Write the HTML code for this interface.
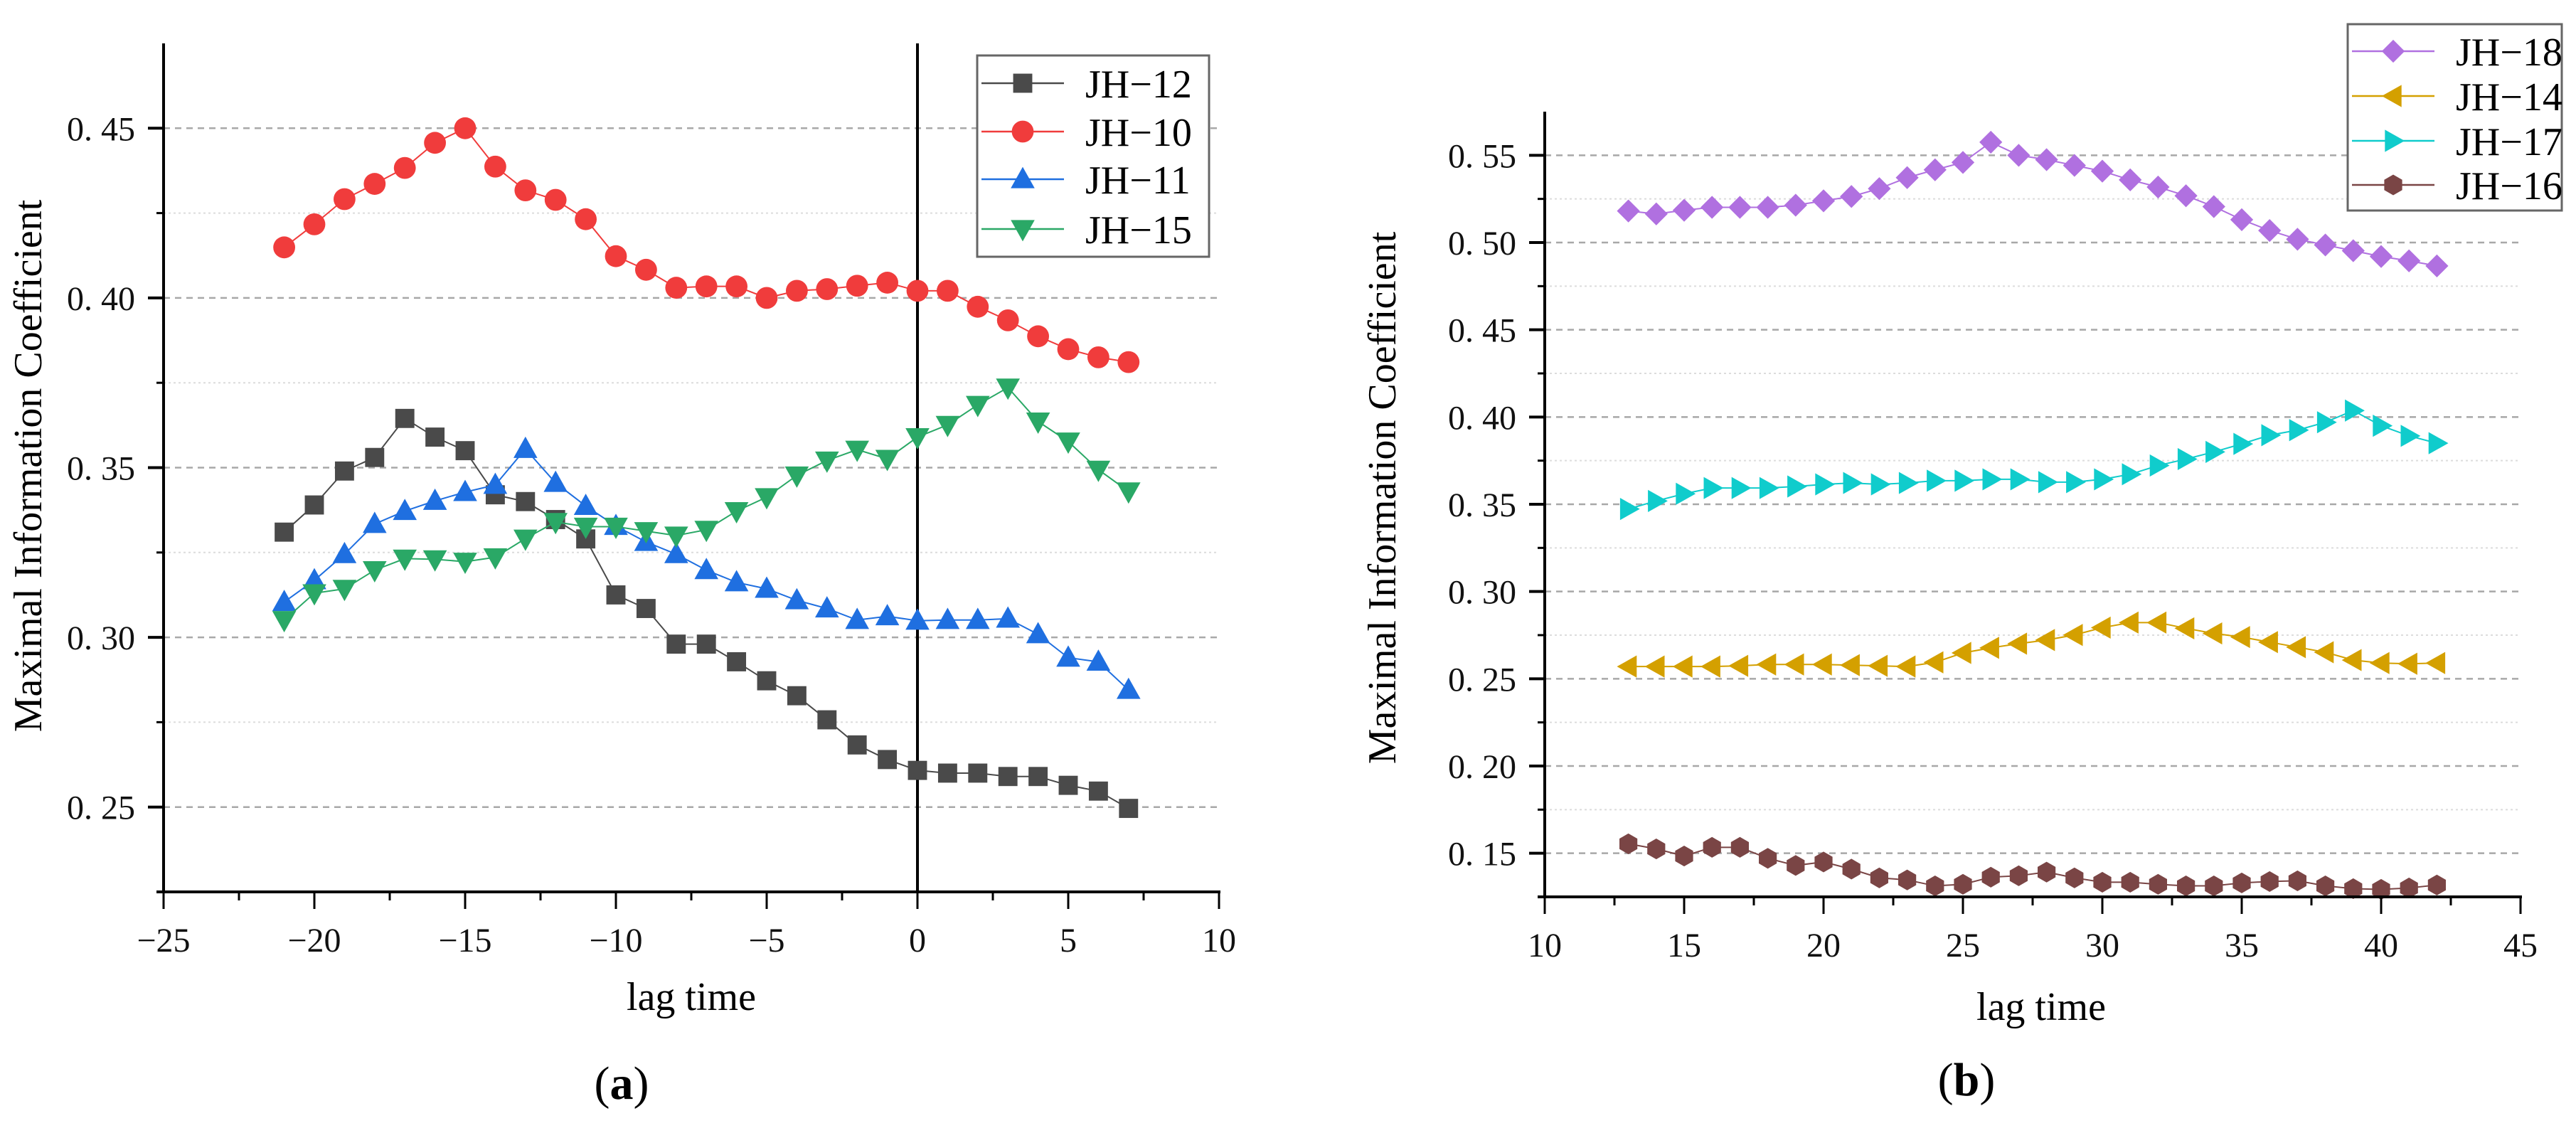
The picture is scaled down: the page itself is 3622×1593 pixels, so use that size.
<!DOCTYPE html>
<html><head><meta charset="utf-8">
<style>
html,body{margin:0;padding:0;background:#fff;}
svg{display:block;font-family:"Liberation Serif","Noto Serif CJK SC",serif;}
</style></head>
<body>
<svg id="fig" width="3622" height="1593" viewBox="0 0 3622 1593" xmlns="http://www.w3.org/2000/svg"></svg>
<script>
// ---- Panel (a) data ----
const lagA = [-21,-20,-19,-18,-17,-16,-15,-14,-13,-12,-11,-10,-9,-8,-7,-6,-5,-4,-3,-2,-1,0,1,2,3,4,5,6,7];
const jh12 = [0.331,0.339,0.349,0.353,0.3645,0.359,0.355,0.342,0.340,0.3347,0.329,0.3125,0.3085,0.298,0.298,0.2928,0.2872,0.2828,0.2757,0.2683,0.264,0.2608,0.260,0.260,0.259,0.259,0.2564,0.2547,0.2496];
const jh10 = [0.4149,0.4217,0.4291,0.4336,0.4383,0.4457,0.450,0.4387,0.4317,0.4289,0.4232,0.4123,0.4083,0.403,0.4034,0.4034,0.400,0.4021,0.4026,0.4036,0.4045,0.4021,0.4021,0.3974,0.3934,0.3887,0.3849,0.3825,0.3811];
const jh11 = [0.3104,0.3168,0.3245,0.3334,0.3372,0.3402,0.3428,0.3449,0.3555,0.3455,0.3387,0.3328,0.3281,0.3245,0.3198,0.3162,0.3143,0.3109,0.3085,0.3051,0.3062,0.3049,0.3051,0.3051,0.3055,0.3009,0.294,0.2928,0.2845];
const jh15 = [0.3051,0.313,0.3143,0.3198,0.3232,0.323,0.3223,0.3236,0.3291,0.334,0.3326,0.3326,0.3313,0.330,0.3317,0.3372,0.3413,0.3477,0.3521,0.3553,0.3526,0.359,0.3626,0.3685,0.3736,0.3636,0.3577,0.3494,0.343];
const xTicksA = [-25,-20,-15,-10,-5,0,5,10];
const yTicksA = [0.25,0.30,0.35,0.40,0.45];
// ---- Panel (b) data ----
const lagB = [13,14,15,16,17,18,19,20,21,22,23,24,25,26,27,28,29,30,31,32,33,34,35,36,37,38,39,40,41,42];
const jh18 = [0.5181,0.5164,0.5185,0.5202,0.5202,0.5202,0.5214,0.5239,0.5264,0.5309,0.5372,0.5417,0.5459,0.5575,0.550,0.5475,0.5442,0.5409,0.5359,0.5318,0.5268,0.5206,0.5131,0.5069,0.5019,0.4986,0.4953,0.492,0.4895,0.4866];
const jh14 = [0.2570,0.2570,0.2570,0.2570,0.2574,0.2582,0.2582,0.2582,0.2578,0.2574,0.2570,0.2594,0.2648,0.2677,0.2701,0.2722,0.2751,0.2793,0.2822,0.2822,0.2789,0.276,0.2739,0.271,0.2681,0.2652,0.2607,0.259,0.2586,0.259];
const jh17 = [0.3473,0.3519,0.356,0.3593,0.3593,0.3593,0.3602,0.3614,0.3622,0.3614,0.3622,0.3635,0.3635,0.3643,0.3643,0.3627,0.3627,0.3643,0.3672,0.3722,0.3759,0.380,0.3846,0.3896,0.3925,0.397,0.4037,0.395,0.3892,0.385];
const jh16 = [0.1554,0.1525,0.1484,0.1534,0.1534,0.1471,0.143,0.145,0.1409,0.1359,0.1347,0.1313,0.1322,0.1363,0.1371,0.1392,0.1359,0.1334,0.1334,0.1322,0.1313,0.1313,0.133,0.1338,0.1342,0.1313,0.1297,0.1293,0.1301,0.1318];
const xTicksB = [10,15,20,25,30,35,40,45];
const yTicksB = [0.15,0.20,0.25,0.30,0.35,0.40,0.45,0.50,0.55];

const NS = "http://www.w3.org/2000/svg";
const svg = document.getElementById('fig');
function mk(tag, attrs, parent){
  const e = document.createElementNS(NS, tag);
  for (const k in attrs) e.setAttribute(k, attrs[k]);
  (parent||svg).appendChild(e);
  return e;
}
function fmtY(v){ const s=v.toFixed(2); return s.replace('.', '. '); }
function fmtX(v){ return v<0 ? '\u2212'+Math.abs(v) : String(v); }

function marker(g, type, cx, cy, color, s){
  let e;
  if (type==='square') e = mk('rect',{x:cx-s*0.48,y:cy-s*0.48,width:s*0.96,height:s*0.96,fill:color},g);
  else if (type==='circle') e = mk('circle',{cx:cx,cy:cy,r:s*0.55,fill:color},g);
  else if (type==='up') e = mk('polygon',{points:`${cx},${cy-s*0.62} ${cx-s*0.6},${cy+s*0.45} ${cx+s*0.6},${cy+s*0.45}`,fill:color},g);
  else if (type==='down') e = mk('polygon',{points:`${cx},${cy+s*0.62} ${cx-s*0.6},${cy-s*0.45} ${cx+s*0.6},${cy-s*0.45}`,fill:color},g);
  else if (type==='left') e = mk('polygon',{points:`${cx-s*0.62},${cy} ${cx+s*0.45},${cy-s*0.6} ${cx+s*0.45},${cy+s*0.6}`,fill:color},g);
  else if (type==='right') e = mk('polygon',{points:`${cx+s*0.62},${cy} ${cx-s*0.45},${cy-s*0.6} ${cx-s*0.45},${cy+s*0.6}`,fill:color},g);
  else if (type==='diamond') e = mk('polygon',{points:`${cx},${cy-s*0.62} ${cx+s*0.62},${cy} ${cx},${cy+s*0.62} ${cx-s*0.62},${cy}`,fill:color},g);
  else if (type==='hex'){
    let p=[]; for(let i=0;i<6;i++){const a=Math.PI/3*i+Math.PI/6; p.push((cx+s*0.56*Math.cos(a))+','+(cy+s*0.56*Math.sin(a)));}
    e = mk('polygon',{points:p.join(' '),fill:color},g);
  }
  return e;
}

function panel(cfg){
  const P = mk('g',{});
  
  
  const X = v => cfg.x0 + (v-cfg.xmin)/(cfg.xmax-cfg.xmin)*(cfg.x1-cfg.x0);
  const Y = v => cfg.y1 - (v-cfg.ymin)/(cfg.ymax-cfg.ymin)*(cfg.y1-cfg.y0);
  // grid
  const grid = mk('g',{},P);
  
  
  const step = cfg.yTicks[1]-cfg.yTicks[0];
  cfg.yTicks.forEach(v=>{
    mk('line',{x1:cfg.x0,x2:cfg.x1,y1:Y(v),y2:Y(v),stroke:'#a8a8a8','stroke-width':2.5,'stroke-dasharray':'9,7'},grid);
    const m=v+step/2;
    if (m<cfg.ymax) mk('line',{x1:cfg.x0,x2:cfg.x1,y1:Y(m),y2:Y(m),stroke:'#dcdcdc','stroke-width':2,'stroke-dasharray':'3,4'},grid);
  });
  if (cfg.vline!==undefined){
    const vl = mk('line',{x1:X(cfg.vline),x2:X(cfg.vline),y1:cfg.y0,y2:cfg.y1,stroke:'#000','stroke-width':4},P);
    
    
  }
  // series
  cfg.series.forEach(s=>{
    const g = mk('g',{},P);
    
    
    const pts = cfg.xs.map((x,i)=>X(x)+','+Y(s.vals[i])).join(' ');
    mk('polyline',{points:pts,fill:'none',stroke:s.color,'stroke-width':2},g);
    cfg.xs.forEach((x,i)=>{
      const m = marker(g,s.type,X(x),Y(s.vals[i]),s.color,cfg.ms);
      
      
    });
  });
  // axes
  const ax = mk('g',{},P);
  
  
  mk('line',{x1:cfg.x0,x2:cfg.x0,y1:cfg.y0,y2:cfg.y1+2,stroke:'#000','stroke-width':4},ax);
  mk('line',{x1:cfg.x0-10,x2:cfg.x1+2,y1:cfg.y1,y2:cfg.y1,stroke:'#000','stroke-width':4},ax);
  const xstep = cfg.xTicks[1]-cfg.xTicks[0];
  cfg.xTicks.forEach((v,i)=>{
    mk('line',{x1:X(v),x2:X(v),y1:cfg.y1,y2:cfg.y1+24,stroke:'#000','stroke-width':3},ax);
    if (i<cfg.xTicks.length-1) mk('line',{x1:X(v+xstep/2),x2:X(v+xstep/2),y1:cfg.y1,y2:cfg.y1+12,stroke:'#000','stroke-width':3},ax);
    const t = mk('text',{x:X(v),y:cfg.y1+84,'text-anchor':'middle','font-size':48,fill:'#111'},ax);
    t.textContent = fmtX(v);
    
    
  });
  cfg.yTicks.forEach(v=>{
    mk('line',{x1:cfg.x0-22,x2:cfg.x0,y1:Y(v),y2:Y(v),stroke:'#000','stroke-width':4},ax);
    const m=v+step/2;
    if (m<cfg.ymax) mk('line',{x1:cfg.x0-10,x2:cfg.x0,y1:Y(m),y2:Y(m),stroke:'#000','stroke-width':3},ax);
    const t = mk('text',{x:cfg.x0-40,y:Y(v)+17,'text-anchor':'end','font-size':48,fill:'#111'},ax);
    t.textContent = fmtY(v);
    
    
  });
  // titles
  const yt = mk('text',{x:0,y:0,'text-anchor':'middle','font-size':56,fill:'#000',transform:`translate(${cfg.ytx},${cfg.yty}) rotate(-90)`},P);
  yt.textContent='Maximal Information Coefficient';
  
  
  const xt = mk('text',{x:cfg.xtx,y:cfg.xty,'text-anchor':'middle','font-size':56,fill:'#000'},P);
  xt.textContent='lag time';
  
  
  const cap = mk('text',{x:cfg.capx,y:cfg.capy,'text-anchor':'middle','font-size':66,fill:'#000'},P);
  
  
  const t1=mk('tspan',{},cap); t1.textContent='(';
  const t2=mk('tspan',{'font-weight':'bold'},cap); t2.textContent=cfg.cap;
  const t3=mk('tspan',{},cap); t3.textContent=')';
  // legend
  const L = cfg.legend;
  const lg = mk('g',{},P);
  
  
  mk('rect',{x:L.x,y:L.y,width:L.w,height:L.h,fill:'#fff',stroke:'#666','stroke-width':3},lg);
  cfg.series.forEach((s,i)=>{
    const ey = L.rows[i];
    const e = mk('g',{},lg);
    
    
    mk('line',{x1:L.x+6,x2:L.x+122,y1:ey,y2:ey,stroke:s.color,'stroke-width':2.5},e);
    marker(e,s.type,L.x+64,ey,s.color,cfg.ms);
    const t=mk('text',{x:L.x+152,y:ey+20,'font-size':56,fill:'#000'},e);
    t.textContent = s.label.replace('-','\u2212');
  });
}

panel({name:'panel-a',x0:230,x1:1714,y0:61,y1:1254,xmin:-25,xmax:10,ymin:0.225,ymax:0.475,
  xTicks:xTicksA,yTicks:yTicksA,xs:lagA,vline:0,ms:28,
  series:[
    {label:'JH-12',vals:jh12,color:'#4a4a4a',type:'square'},
    {label:'JH-10',vals:jh10,color:'#f03c3c',type:'circle'},
    {label:'JH-11',vals:jh11,color:'#1f6fe0',type:'up'},
    {label:'JH-15',vals:jh15,color:'#2aa866',type:'down'}],
  ytx:58,yty:655,xtx:972,xty:1420,capx:874,capy:1545,cap:'a',
  legend:{x:1374,y:78,w:326,h:283,rows:[117,185,252,322]}});

panel({name:'panel-b',x0:2172,x1:3544,y0:157,y1:1261,xmin:10,xmax:45,ymin:0.125,ymax:0.575,
  xTicks:xTicksB,yTicks:yTicksB,xs:lagB,ms:26,
  series:[
    {label:'JH-18',vals:jh18,color:'#b070e0',type:'diamond'},
    {label:'JH-14',vals:jh14,color:'#d4a000',type:'left'},
    {label:'JH-17',vals:jh17,color:'#10cccc',type:'right'},
    {label:'JH-16',vals:jh16,color:'#7a4545',type:'hex'}],
  ytx:1962,yty:700,xtx:2870,xty:1434,capx:2765,capy:1540,cap:'b',
  legend:{x:3301,y:34,w:301,h:262,rows:[72,135,198,260]}});
</script>
</body></html>
